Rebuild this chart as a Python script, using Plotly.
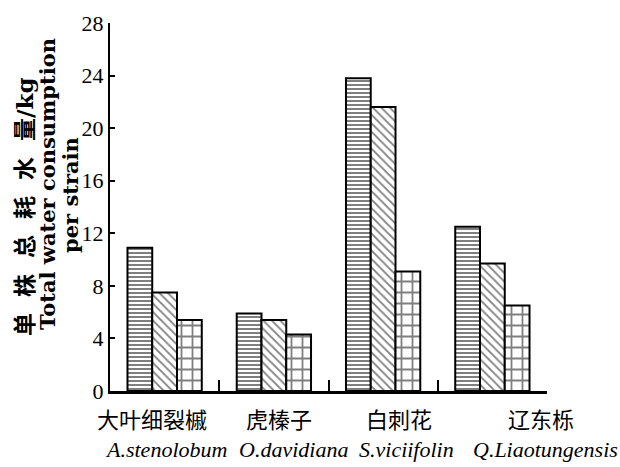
import plotly.graph_objects as go

categories = ["大叶细裂槭", "虎榛子", "白刺花", "辽东栎"]
latin_names = ["A.stenolobum", "O.davidiana", "S.viciifolin", "Q.Liaotungensis"]
series_names = ["Series 1", "Series 2", "Series 3"]
series1 = [10.9, 5.9, 23.8, 12.5]
series2 = [7.5, 5.4, 21.6, 9.7]
series3 = [5.4, 4.3, 9.1, 6.5]
y_ticks = [0, 4, 8, 12, 16, 20, 24, 28]

patterns = [
    dict(shape="-", size=4, solidity=0.5, fgcolor="black", bgcolor="white"),
    dict(shape="\\", size=6, solidity=0.3, fgcolor="black", bgcolor="white"),
    dict(shape="+", size=11, solidity=0.3, fgcolor="black", bgcolor="white"),
]

fig = go.Figure()
for name, vals, pat in zip(series_names, [series1, series2, series3], patterns):
    fig.add_trace(go.Bar(
        x=categories, y=vals, name=name,
        marker=dict(color="white", pattern=pat, line=dict(color="black", width=2)),
    ))

L, R, T, B = 110, 73, 23, 76
W, H = 620, 467
pw = W - L - R
ph = H - T - B

def px_to_paper_x(px):
    return (px - L) / pw

def py_to_paper_y(py):
    return (H - B - py) / ph

annotations = []
cn_centers = [152, 279, 399, 541]
lat_centers = [166, 293, 406, 545]
for c, px in zip(categories, cn_centers):
    annotations.append(dict(
        text=c, xref="paper", yref="paper", x=px_to_paper_x(px), y=py_to_paper_y(418),
        xanchor="center", yanchor="middle", showarrow=False,
        font=dict(family="Noto Sans CJK SC", size=22, color="black"),
    ))
for t, px in zip(latin_names, lat_centers):
    annotations.append(dict(
        text="<i>" + t + "</i>", xref="paper", yref="paper", x=px_to_paper_x(px), y=py_to_paper_y(449),
        xanchor="center", yanchor="middle", showarrow=False,
        font=dict(family="Liberation Serif", size=22, color="black"),
    ))

sp = "\u00a0\u00a0"
title_lines = [
    (sp.join("单株总耗水量") + "/kg", 24, 23, 207),
    ("Total water consumption", 47, 21, 184),
    ("per strain", 70, 21, 195),
]
for txt, px, size, py in title_lines:
    annotations.append(dict(
        text="<b>" + txt + "</b>", xref="paper", yref="paper",
        x=px_to_paper_x(px), y=py_to_paper_y(py), xanchor="center", yanchor="middle",
        textangle=-90, showarrow=False,
        font=dict(family="DejaVu Serif, Noto Sans CJK SC", size=size, color="black"),
    ))

fig.update_layout(
    width=W, height=H,
    margin=dict(l=L, r=R, t=T, b=B),
    paper_bgcolor="white", plot_bgcolor="white",
    barmode="group", bargap=0.32, bargroupgap=0,
    showlegend=False,
    annotations=annotations,
    xaxis=dict(
        showline=True, linecolor="black", linewidth=2.5,
        ticks="inside", tickson="boundaries", ticklen=11, tickwidth=1.5, tickcolor="black",
        showticklabels=False, showgrid=False, zeroline=False,
    ),
    yaxis=dict(
        range=[0, 28], tickvals=y_ticks, ticktext=[str(v) for v in y_ticks],
        showline=True, linecolor="black", linewidth=2,
        ticks="inside", ticklen=5, tickwidth=2, tickcolor="black",
        showgrid=False, zeroline=False,
        tickfont=dict(family="Liberation Serif", size=22, color="black"),
    ),
)

fig.write_html("out.html")
